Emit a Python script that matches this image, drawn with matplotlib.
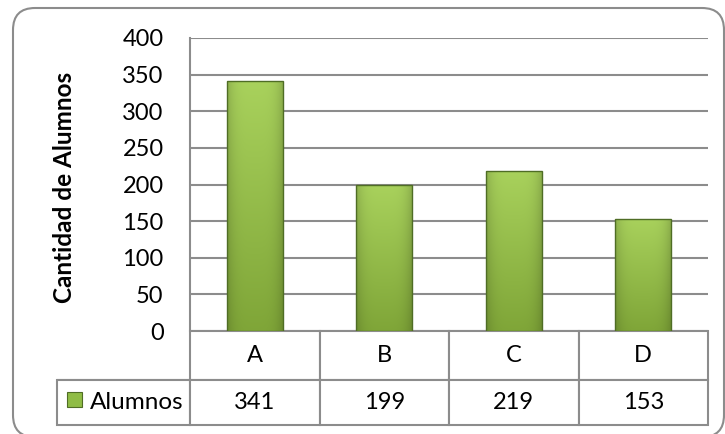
import numpy as np
import matplotlib
matplotlib.use("Agg")
import matplotlib.pyplot as plt
from matplotlib.patches import FancyBboxPatch, Rectangle
from matplotlib.transforms import IdentityTransform

# data
categories = ["A", "B", "C", "D"]
alumnos = [341, 199, 219, 153]
series_name = "Alumnos"
y_ticks = [0, 50, 100, 150, 200, 250, 300, 350, 400]

plt.rcParams['font.family'] = ['Lato', 'DejaVu Sans']
grid_color = "#8c8c8c"

fig = plt.figure(figsize=(7.25, 4.34), dpi=100)
ax = fig.add_axes([190 / 725, 103 / 434, 518 / 725, 293 / 434])

x = np.arange(len(categories))
bars = ax.bar(x, alumnos, width=0.43, color="#8fbc45", edgecolor="#4f6d25",
              linewidth=1.0, zorder=3)

# bevel-like gradient inside each bar
h, w = 64, 32
vert = np.linspace(0, 1, h)[:, None]
horiz = np.abs(np.linspace(-1, 1, w))[None, :]
top = np.array([0.66, 0.82, 0.36])
bot = np.array([0.50, 0.65, 0.22])
img = top[None, None, :] * (1 - vert[..., None]) + bot[None, None, :] * vert[..., None]
img = img * (1 - 0.15 * horiz[..., None] ** 4)
img = np.clip(img, 0, 1)
for b in bars:
    x0, y0 = b.get_x(), b.get_y()
    im = ax.imshow(img, extent=[x0, x0 + b.get_width(), y0, y0 + b.get_height()],
                   aspect='auto', zorder=3.5, interpolation='bilinear')
    im.set_clip_path(b)
    b.set_facecolor("none")
    b.set_zorder(4)

ax.set_xlim(-0.5, len(categories) - 0.5)
ax.set_ylim(0, 400)
ax.set_yticks(y_ticks)
ax.set_xticks([])
ax.tick_params(axis='y', length=0, pad=19, labelsize=17)
ax.yaxis.grid(True, color=grid_color, linewidth=1.5, zorder=0)
ax.set_axisbelow(True)
for s in ["top", "right", "bottom"]:
    ax.spines[s].set_visible(False)
ax.spines["left"].set_color(grid_color)
ax.spines["left"].set_linewidth(1.5)

ax.set_ylabel("Cantidad de Alumnos", fontsize=17.5, fontweight='bold')
ax.yaxis.set_label_coords(-0.22, 0.49)

# data table under the chart (first column holds the series name)
label_w = 133 / 518
tbl = ax.table(cellText=[[series_name] + [str(v) for v in alumnos]],
               colLabels=[""] + categories, cellLoc='center',
               colWidths=[label_w] + [0.25] * len(categories),
               bbox=[-label_w, -94 / 293, 1 + label_w, 94 / 293])
tbl.auto_set_font_size(False)
tbl.set_fontsize(17)
for (r, c), cell in tbl.get_celld().items():
    cell.set_edgecolor(grid_color)
    cell.set_linewidth(1.5)
    cell.set_height(49 if r == 0 else 45)
tbl[0, 0].visible_edges = "B"
tbl[1, 0]._loc = "right"
tbl[1, 0].get_text().set_horizontalalignment("right")
tbl[1, 0].get_text().set_fontsize(17.5)
tbl[1, 0].PAD = 0.05

# legend key in the row label cell
ax.add_patch(Rectangle((-123 / 518, -76 / 293), 15 / 518, 15 / 293,
                       transform=ax.transAxes, clip_on=False,
                       facecolor="#8fbc45", edgecolor="#4f6d25", linewidth=0.8))

# rounded chart border
fig.patches.append(FancyBboxPatch((13, -3), 711, 429,
                                  boxstyle="round,pad=0,rounding_size=22",
                                  transform=IdentityTransform(), fill=False,
                                  edgecolor=grid_color, linewidth=1.5))

fig.savefig("out.png", dpi=100)
